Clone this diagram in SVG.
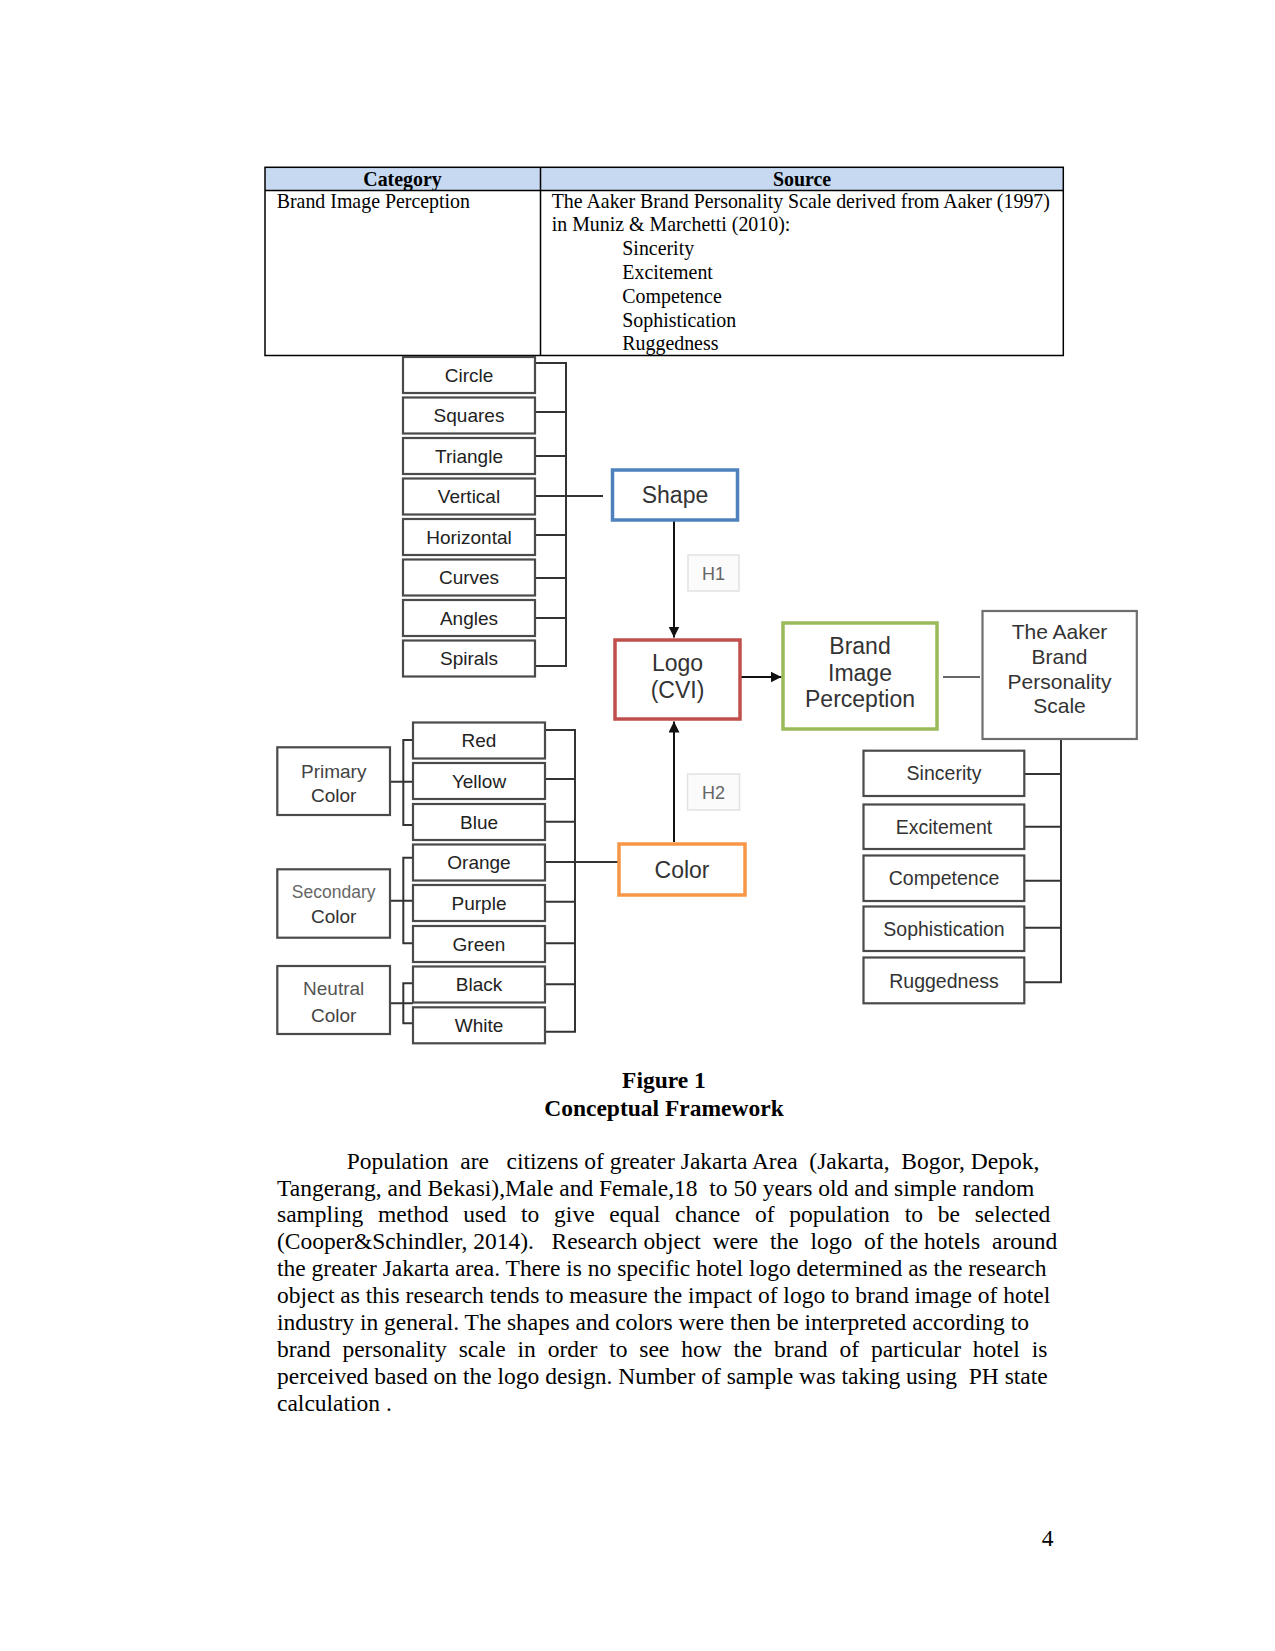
<svg xmlns="http://www.w3.org/2000/svg" width="1275" height="1651" viewBox="0 0 1275 1651">
<style>
.serif{font-family:"Liberation Serif","Times New Roman",serif;fill:#000}
.tb{font-size:19.9px}
.body{font-size:23.5px}
.pre{white-space:pre}
.bold{font-weight:bold;text-anchor:middle}
.box{fill:#fff;stroke:#4a4a4a;stroke-width:2.2}
.lbl{font-family:"Liberation Sans",Arial,sans-serif;font-size:19px;fill:#222;text-anchor:middle}
.big{font-family:"Liberation Sans",Arial,sans-serif;font-size:23px;fill:#333;text-anchor:middle}
.ln{stroke:#333;stroke-width:2;fill:none}
.hbox{fill:#fbfbfb;stroke:#e2e2e2;stroke-width:1.5}
.hlbl{font-family:"Liberation Sans",Arial,sans-serif;font-size:18px;fill:#666;text-anchor:middle}
</style>
<defs>
<marker id="ah" viewBox="0 0 10 10" refX="10" refY="5" markerWidth="11" markerHeight="11" markerUnits="userSpaceOnUse" orient="auto"><path d="M0,0 L10,5 L0,10 z" fill="#111"/></marker>
</defs>
<rect width="1275" height="1651" fill="#fff"/>

<g id="table">
<rect x="265" y="167.3" width="798.3" height="23.2" fill="#c6d9f1"/>
<rect x="265" y="167.3" width="798.3" height="188.2" fill="none" stroke="#000" stroke-width="1.5"/>
<line x1="265" y1="190.5" x2="1063.3" y2="190.5" stroke="#000" stroke-width="1.5"/>
<line x1="540.5" y1="167.3" x2="540.5" y2="355.5" stroke="#000" stroke-width="1.5"/>
<text class="serif tb bold" x="402.5" y="186">Category</text>
<text class="serif tb bold" x="802" y="186">Source</text>
<text class="serif tb" x="276.7" y="208">Brand Image Perception</text>
<text class="serif tb" x="551.7" y="207.5">The Aaker Brand Personality Scale derived from Aaker (1997)</text>
<text class="serif tb" x="551.7" y="230.5">in Muniz &amp; Marchetti (2010):</text>
<text class="serif tb" x="622.3" y="254.5">Sincerity</text>
<text class="serif tb" x="622.3" y="278.5">Excitement</text>
<text class="serif tb" x="622.3" y="302.5">Competence</text>
<text class="serif tb" x="622.3" y="326.5">Sophistication</text>
<text class="serif tb" x="622.3" y="350.3">Ruggedness</text>
</g>

<g id="connectors">
<path class="ln" d="M535,363 H566 V666 H535 M535,412 H566 M535,456 H566 M535,496 H603 M535,535 H566 M535,578 H566 M535,618 H566"/>
<path class="ln" d="M545,730 H575 V1031.7 H545 M545,779 H575 M545,821.7 H575 M545,862 H618 M545,901.7 H575 M545,943.3 H575 M545,984.3 H575"/>
<path class="ln" d="M413,740 H403.3 V825 H413 M390,781.7 H413"/>
<path class="ln" d="M413,857.7 H403.3 V943.3 H413 M390,900.7 H413"/>
<path class="ln" d="M413,983.3 H403.3 V1023.3 H413 M390,1003.3 H413"/>
<path class="ln" d="M1061,740 V982.3 H1024.3 M1024.3,774 H1061 M1024.3,826.7 H1061 M1024.3,880.7 H1061 M1024.3,927.7 H1061"/>
<line x1="674" y1="521" x2="674" y2="637.5" stroke="#111" stroke-width="2" marker-end="url(#ah)"/>
<line x1="674" y1="842" x2="674" y2="721.5" stroke="#111" stroke-width="2" marker-end="url(#ah)"/>
<line x1="741" y1="677" x2="781.5" y2="677" stroke="#111" stroke-width="2" marker-end="url(#ah)"/>
<line x1="943" y1="677" x2="980" y2="677" stroke="#666" stroke-width="2"/>
</g>

<g id="shape-items">
<g id="n-circle"><rect class="box" x="403" y="357" width="132" height="36"/><text class="lbl" x="469" y="381.8">Circle</text></g>
<g id="n-squares"><rect class="box" x="403" y="397.5" width="132" height="36"/><text class="lbl" x="469" y="422.3">Squares</text></g>
<g id="n-triangle"><rect class="box" x="403" y="438" width="132" height="36"/><text class="lbl" x="469" y="462.8">Triangle</text></g>
<g id="n-vertical"><rect class="box" x="403" y="478.5" width="132" height="36"/><text class="lbl" x="469" y="503.3">Vertical</text></g>
<g id="n-horizontal"><rect class="box" x="403" y="519" width="132" height="36"/><text class="lbl" x="469" y="543.8">Horizontal</text></g>
<g id="n-curves"><rect class="box" x="403" y="559.5" width="132" height="36"/><text class="lbl" x="469" y="584.3">Curves</text></g>
<g id="n-angles"><rect class="box" x="403" y="600" width="132" height="36"/><text class="lbl" x="469" y="624.8">Angles</text></g>
<g id="n-spirals"><rect class="box" x="403" y="640.5" width="132" height="36"/><text class="lbl" x="469" y="665.3">Spirals</text></g>
</g>

<g id="color-items">
<g id="n-red"><rect class="box" x="413" y="722.5" width="132" height="36"/><text class="lbl" x="479" y="747.3">Red</text></g>
<g id="n-yellow"><rect class="box" x="413" y="763" width="132" height="36"/><text class="lbl" x="479" y="787.8">Yellow</text></g>
<g id="n-blue"><rect class="box" x="413" y="804" width="132" height="36"/><text class="lbl" x="479" y="828.8">Blue</text></g>
<g id="n-orange"><rect class="box" x="413" y="844.5" width="132" height="36"/><text class="lbl" x="479" y="869.3">Orange</text></g>
<g id="n-purple"><rect class="box" x="413" y="885" width="132" height="36"/><text class="lbl" x="479" y="909.8">Purple</text></g>
<g id="n-green"><rect class="box" x="413" y="926" width="132" height="36"/><text class="lbl" x="479" y="950.8">Green</text></g>
<g id="n-black"><rect class="box" x="413" y="966.5" width="132" height="36"/><text class="lbl" x="479" y="991.3">Black</text></g>
<g id="n-white"><rect class="box" x="413" y="1007.3" width="132" height="36"/><text class="lbl" x="479" y="1032.1">White</text></g>
</g>

<g id="n-primary"><rect class="box" x="277.3" y="747.3" width="112.7" height="67.7"/><text class="lbl" x="333.7" y="777.5" style="fill:#444">Primary</text><text class="lbl" x="333.7" y="802" style="fill:#333">Color</text></g>
<g id="n-secondary"><rect class="box" x="277.3" y="869.3" width="112.7" height="68.4"/><text class="lbl" x="333.7" y="898" style="fill:#666;font-size:17.5px">Secondary</text><text class="lbl" x="333.7" y="922.5" style="fill:#333">Color</text></g>
<g id="n-neutral"><rect class="box" x="277.3" y="966" width="112.7" height="68"/><text class="lbl" x="333.7" y="995" style="fill:#555">Neutral</text><text class="lbl" x="333.7" y="1022" style="fill:#444">Color</text></g>

<g id="n-shape"><rect x="612.5" y="470" width="125" height="50" fill="#fff" stroke="#4f81bd" stroke-width="3.5"/><text class="big" x="675" y="503">Shape</text></g>
<g id="n-h1"><rect class="hbox" x="688" y="555" width="51" height="36"/><text class="hlbl" x="713.5" y="579.5">H1</text></g>
<g id="n-logo"><rect x="615" y="640" width="125" height="79" fill="#fff" stroke="#c0504d" stroke-width="3.5"/><text class="big" x="677.5" y="671">Logo</text><text class="big" x="677.5" y="698">(CVI)</text></g>
<g id="n-h2"><rect class="hbox" x="687.5" y="774" width="52" height="36"/><text class="hlbl" x="713.5" y="798.5">H2</text></g>
<g id="n-color"><rect x="619" y="844" width="126" height="51" fill="#fff" stroke="#f79646" stroke-width="3.5"/><text class="big" x="682" y="877.5">Color</text></g>
<g id="n-bip"><rect x="783" y="623" width="154" height="106" fill="#fff" stroke="#9bbb59" stroke-width="3.5"/><text class="big" x="860" y="654">Brand</text><text class="big" x="860" y="681">Image</text><text class="big" x="860" y="706.5">Perception</text></g>
<g id="n-aaker"><rect x="982.5" y="611" width="154.3" height="128" fill="#fff" stroke="#6e6e6e" stroke-width="2.2"/><text class="big" style="font-size:21px" x="1059.5" y="639">The Aaker</text><text class="big" style="font-size:21px" x="1059.5" y="664">Brand</text><text class="big" style="font-size:21px" x="1059.5" y="688.5">Personality</text><text class="big" style="font-size:21px" x="1059.5" y="712.5">Scale</text></g>

<g id="personality-items">
<g id="n-sincerity"><rect class="box" x="863.5" y="750.7" width="160.8" height="45.3"/><text class="lbl" style="font-size:19.5px;fill:#333" x="944" y="780.3">Sincerity</text></g>
<g id="n-excitement"><rect class="box" x="863.5" y="804.5" width="160.8" height="44.5"/><text class="lbl" style="font-size:19.5px;fill:#333" x="944" y="833.8">Excitement</text></g>
<g id="n-competence"><rect class="box" x="863.5" y="855.5" width="160.8" height="45.5"/><text class="lbl" style="font-size:19.5px;fill:#333" x="944" y="885.3">Competence</text></g>
<g id="n-sophistication"><rect class="box" x="863.5" y="906.5" width="160.8" height="44.5"/><text class="lbl" style="font-size:19.5px;fill:#333" x="944" y="936">Sophistication</text></g>
<g id="n-ruggedness"><rect class="box" x="863.5" y="957.5" width="160.8" height="45.8"/><text class="lbl" style="font-size:19.5px;fill:#333" x="944" y="987.5">Ruggedness</text></g>
</g>

<g id="caption">
<text class="serif body bold" x="664" y="1087.5">Figure 1</text>
<text class="serif body bold" x="664" y="1115.5">Conceptual Framework</text>
</g>

<g id="paragraph" class="serif body">
<text class="pre" xml:space="preserve" x="346.7" y="1168.5">Population  are   citizens of greater Jakarta Area  (Jakarta,  Bogor, Depok,</text>
<text class="pre" xml:space="preserve" x="277" y="1195.5">Tangerang, and Bekasi),Male and Female,18  to 50 years old and simple random</text>
<text class="pre" xml:space="preserve" x="277" y="1222.3" word-spacing="8.9">sampling method used to give equal chance of population to be selected</text>
<text class="pre" xml:space="preserve" x="277" y="1249.1">(Cooper&amp;Schindler, 2014).   Research object  were  the  logo  of the hotels  around</text>
<text class="pre" xml:space="preserve" x="277" y="1276">the greater Jakarta area. There is no specific hotel logo determined as the research</text>
<text class="pre" xml:space="preserve" x="277" y="1302.8">object as this research tends to measure the impact of logo to brand image of hotel</text>
<text class="pre" xml:space="preserve" x="277" y="1329.6">industry in general. The shapes and colors were then be interpreted according to</text>
<text class="pre" xml:space="preserve" x="277" y="1357" word-spacing="6">brand personality scale in order to see how the brand of particular hotel is</text>
<text class="pre" xml:space="preserve" x="277" y="1384.2">perceived based on the logo design. Number of sample was taking using  PH state</text>
<text class="pre" xml:space="preserve" x="277" y="1411">calculation .</text>
</g>

<text class="serif body" x="1047.5" y="1546" text-anchor="middle">4</text>
</svg>
